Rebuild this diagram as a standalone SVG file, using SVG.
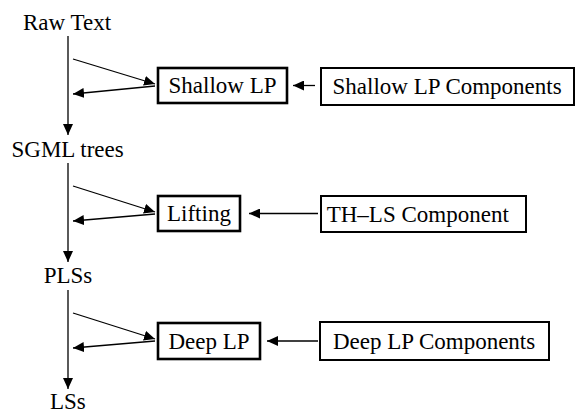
<svg xmlns="http://www.w3.org/2000/svg" width="576" height="413" viewBox="0 0 576 413">
<style>
.box{fill:#fff;stroke:#000;stroke-width:2.6}
.cbox{fill:#fff;stroke:#000;stroke-width:2}
</style>
<defs>
<marker id="ah" markerUnits="userSpaceOnUse" markerWidth="12" markerHeight="10" refX="11" refY="5" orient="auto">
<path d="M0,0 L11,5 L0,10 Z" fill="#000"/>
</marker>
</defs>
<g font-family="Liberation Serif, serif" font-size="23">
<g id="raw-text"><text x="23" y="30">Raw Text</text></g>
<g id="sgml-trees"><text x="11.5" y="157">SGML trees</text></g>
<g id="plss"><text x="43.7" y="283">PLSs</text></g>
<g id="lss"><text x="50" y="409">LSs</text></g>
<g id="shallow-lp"><rect class="box" x="158" y="68" width="129" height="35"/><text x="168.5" y="93">Shallow LP</text></g>
<g id="shallow-lp-components"><rect class="cbox" x="321" y="68" width="253" height="37"/><text x="332.5" y="94">Shallow LP Components</text></g>
<g id="lifting"><rect class="box" x="158" y="196" width="82" height="35"/><text x="167" y="221">Lifting</text></g>
<g id="th-ls-component"><rect class="cbox" x="321" y="196" width="205" height="36"/><text x="326.7" y="222">TH&#8211;LS Component</text></g>
<g id="deep-lp"><rect class="box" x="158" y="323" width="102" height="36"/><text x="168.4" y="349">Deep LP</text></g>
<g id="deep-lp-components"><rect class="cbox" x="320" y="322" width="229" height="38"/><text x="332.9" y="349">Deep LP Components</text></g>
</g>
<g id="connectors" fill="none" stroke="#000" stroke-width="1.3">
<line x1="68" y1="36" x2="68" y2="135" marker-end="url(#ah)"/>
<line x1="68" y1="163" x2="68" y2="262" marker-end="url(#ah)"/>
<line x1="68" y1="290" x2="68" y2="389" marker-end="url(#ah)"/>
<line x1="73" y1="59" x2="155" y2="84" marker-end="url(#ah)"/>
<line x1="155" y1="86" x2="73" y2="94" marker-end="url(#ah)"/>
<line x1="73" y1="186" x2="155" y2="212" marker-end="url(#ah)"/>
<line x1="155" y1="214" x2="73" y2="221" marker-end="url(#ah)"/>
<line x1="73" y1="313" x2="155" y2="339" marker-end="url(#ah)"/>
<line x1="155" y1="341" x2="73" y2="348" marker-end="url(#ah)"/>
<line x1="315" y1="85.5" x2="293" y2="85.5" marker-end="url(#ah)"/>
<line x1="318" y1="213.5" x2="249" y2="213.5" marker-end="url(#ah)"/>
<line x1="318" y1="341" x2="267" y2="341" marker-end="url(#ah)"/>
</g>
</svg>
